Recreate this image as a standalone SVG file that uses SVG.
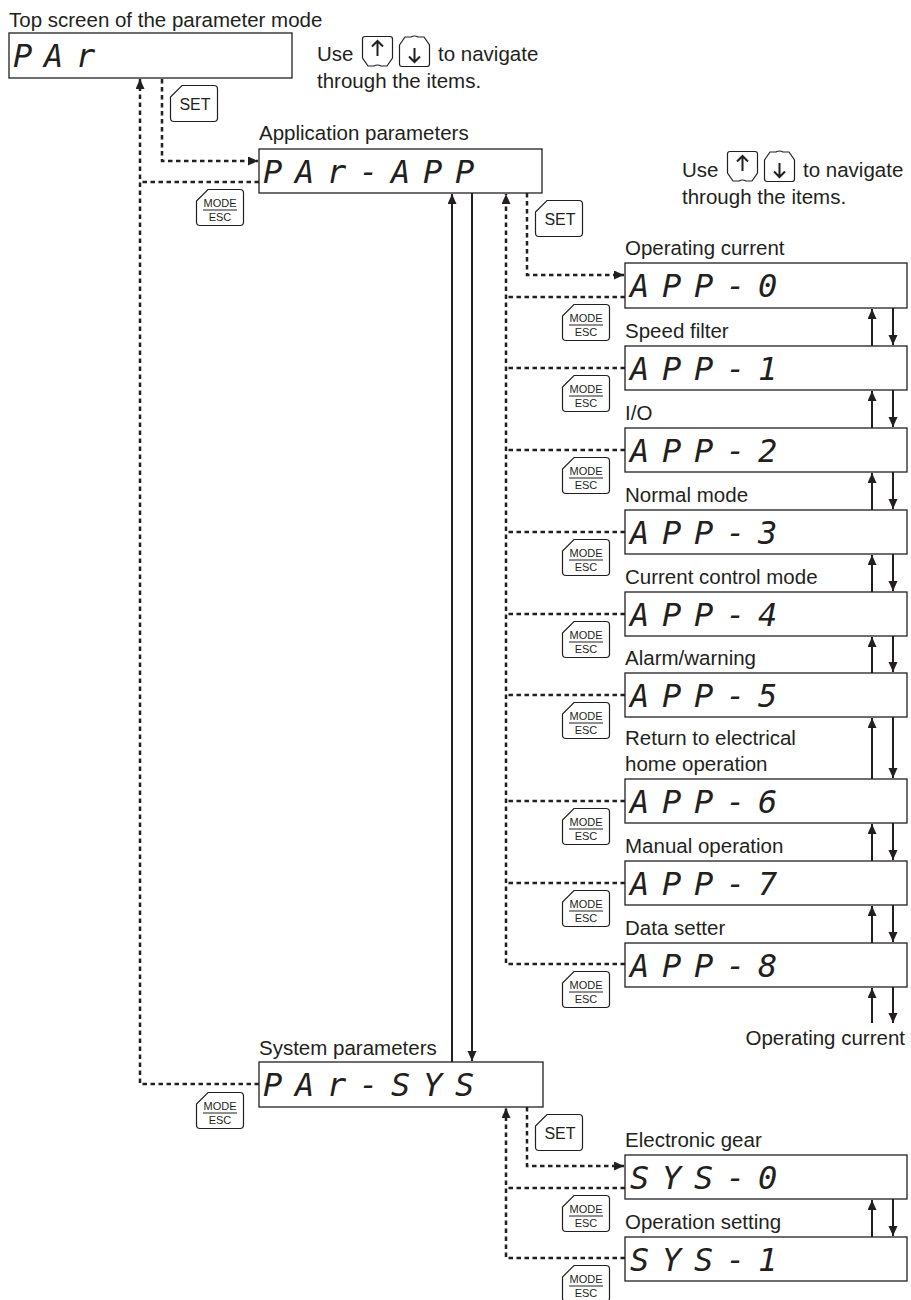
<svg xmlns="http://www.w3.org/2000/svg" xmlns:xlink="http://www.w3.org/1999/xlink" width="911" height="1300" viewBox="0 0 911 1300">
<style>
  .lbl { font-family: "Liberation Sans", Arial, sans-serif; font-size: 20.5px; fill: #231f20; }
  .box { fill: #ffffff; stroke: #231f20; stroke-width: 1.3; }
  .seg { font-family: "DejaVu Sans Mono", "Liberation Mono", monospace; font-style: oblique; font-size: 32px; fill: #231f20; }
  .dot { fill: none; stroke: #231f20; stroke-width: 2.5; stroke-dasharray: 4.5 3.5; }
  .sol { fill: none; stroke: #231f20; stroke-width: 2; }
  .key { fill: #ffffff; stroke: #231f20; stroke-width: 1.2; }
  .ktxt { font-family: "Liberation Sans", Arial, sans-serif; fill: #231f20; text-anchor: middle; }
  .karr { fill: none; stroke: #231f20; stroke-width: 2; }
</style>
<defs>
  <marker id="ah" markerUnits="userSpaceOnUse" markerWidth="11" markerHeight="10" refX="10" refY="4.5" orient="auto">
    <path d="M0,0 L10,4.5 L0,9 Z" fill="#231f20"/>
  </marker>
  <g id="modeKey">
    <path class="key" d="M12,0.5 H44 Q47.5,0.5 47.5,4 V33 Q47.5,36.5 44,36.5 H4 Q0.5,36.5 0.5,33 V12 Z"/>
    <text class="ktxt" x="24" y="18" font-size="11">MODE</text>
    <line x1="7" y1="21" x2="41" y2="21" stroke="#231f20" stroke-width="1"/>
    <text class="ktxt" x="24" y="32" font-size="11">ESC</text>
  </g>
  <g id="setKey">
    <path class="key" d="M12,0.5 H44 Q47.5,0.5 47.5,4 V33 Q47.5,36.5 44,36.5 H4 Q0.5,36.5 0.5,33 V12 Z"/>
    <text class="ktxt" x="25" y="25" font-size="16">SET</text>
  </g>
  <g id="upKey">
    <path class="key" d="M3,0.5 H28 Q30.5,0.5 30.5,3 V22 L25,30 H19 Q15.5,28 12,30 H6 L0.5,22 V3 Q0.5,0.5 3,0.5 Z"/>
    <path class="karr" d="M15.5,20 V5 M10,10.5 L15.5,5 L21,10.5"/>
  </g>
  <g id="downKey">
    <path class="key" d="M0.5,9 L6,1 H12 Q15.5,-1 19,1 H25 L30.5,9 V28 Q30.5,30.5 28,30.5 H3 Q0.5,30.5 0.5,28 Z"/>
    <path class="karr" d="M15.5,12 V26 M10,20.5 L15.5,26 L21,20.5"/>
  </g>
</defs>

<!-- free texts -->
<g id="notes">
  <text class="lbl" x="9" y="27">Top screen of the parameter mode</text>
  <text class="lbl" x="317" y="61">Use</text>
  <text class="lbl" x="438" y="61">to navigate</text>
  <text class="lbl" x="317" y="88">through the items.</text>
  <text class="lbl" x="682" y="177">Use</text>
  <text class="lbl" x="803" y="177">to navigate</text>
  <text class="lbl" x="682" y="204">through the items.</text>
  <text class="lbl" x="905" y="1045" text-anchor="end">Operating current</text>
</g>
<g id="navKeys">
  <use xlink:href="#upKey" x="362" y="36"/>
  <use xlink:href="#downKey" x="399" y="36"/>
  <use xlink:href="#upKey" x="727" y="151"/>
  <use xlink:href="#downKey" x="764" y="151"/>
</g>

<!-- connectors -->
<g id="connectors">
  <path class="dot" d="M259,1084 H140 V79" marker-end="url(#ah)"/>
  <path class="dot" d="M259,182 H140"/>
  <path class="dot" d="M162,79 V161 H258" marker-end="url(#ah)"/>
  <path class="sol" d="M452,1062 V194" marker-end="url(#ah)"/>
  <path class="sol" d="M472,193 V1061" marker-end="url(#ah)"/>
  <path class="dot" d="M625,964 H506 V194" marker-end="url(#ah)"/>
  <path class="dot" d="M625,297 H506"/>
  <path class="dot" d="M625,368 H506"/>
  <path class="dot" d="M625,450 H506"/>
  <path class="dot" d="M625,532 H506"/>
  <path class="dot" d="M625,614 H506"/>
  <path class="dot" d="M625,695 H506"/>
  <path class="dot" d="M625,801 H506"/>
  <path class="dot" d="M625,883 H506"/>
  <path class="dot" d="M527,193 V275 H624" marker-end="url(#ah)"/>
  <path class="sol" d="M872,346 V309" marker-end="url(#ah)"/>
  <path class="sol" d="M893,308 V345" marker-end="url(#ah)"/>
  <path class="sol" d="M872,428 V391" marker-end="url(#ah)"/>
  <path class="sol" d="M893,390 V427" marker-end="url(#ah)"/>
  <path class="sol" d="M872,510 V473" marker-end="url(#ah)"/>
  <path class="sol" d="M893,472 V509" marker-end="url(#ah)"/>
  <path class="sol" d="M872,592 V555" marker-end="url(#ah)"/>
  <path class="sol" d="M893,554 V591" marker-end="url(#ah)"/>
  <path class="sol" d="M872,673 V637" marker-end="url(#ah)"/>
  <path class="sol" d="M893,636 V672" marker-end="url(#ah)"/>
  <path class="sol" d="M872,779 V718" marker-end="url(#ah)"/>
  <path class="sol" d="M893,717 V778" marker-end="url(#ah)"/>
  <path class="sol" d="M872,861 V824" marker-end="url(#ah)"/>
  <path class="sol" d="M893,823 V860" marker-end="url(#ah)"/>
  <path class="sol" d="M872,943 V906" marker-end="url(#ah)"/>
  <path class="sol" d="M893,905 V942" marker-end="url(#ah)"/>
  <path class="sol" d="M872,1023 V988" marker-end="url(#ah)"/>
  <path class="sol" d="M893,987 V1023" marker-end="url(#ah)"/>
  <path class="dot" d="M625,1258 H506 V1108" marker-end="url(#ah)"/>
  <path class="dot" d="M625,1188 H506"/>
  <path class="dot" d="M527,1107 V1166 H624" marker-end="url(#ah)"/>
  <path class="sol" d="M872,1237 V1200" marker-end="url(#ah)"/>
  <path class="sol" d="M893,1199 V1236" marker-end="url(#ah)"/>
</g>

<!-- operation keys -->
<g id="opKeys">
  <use xlink:href="#setKey" x="170" y="85"/>
  <use xlink:href="#modeKey" x="196" y="189"/>
  <use xlink:href="#setKey" x="535" y="200"/>
  <use xlink:href="#modeKey" x="196" y="1092"/>
  <use xlink:href="#setKey" x="535" y="1114"/>
  <use xlink:href="#modeKey" x="562" y="304"/>
  <use xlink:href="#modeKey" x="562" y="375"/>
  <use xlink:href="#modeKey" x="562" y="457"/>
  <use xlink:href="#modeKey" x="562" y="539"/>
  <use xlink:href="#modeKey" x="562" y="621"/>
  <use xlink:href="#modeKey" x="562" y="702"/>
  <use xlink:href="#modeKey" x="562" y="808"/>
  <use xlink:href="#modeKey" x="562" y="890"/>
  <use xlink:href="#modeKey" x="562" y="971"/>
  <use xlink:href="#modeKey" x="562" y="1195"/>
  <use xlink:href="#modeKey" x="562" y="1265"/>
</g>

<!-- nodes -->
<g id="n-par">
  <rect class="box" x="9" y="33" width="283" height="45"/>
  <text class="seg" x="13 44 76" y="67">PAr</text>
</g>
<g id="n-par-app">
  <text class="lbl" x="259" y="140">Application parameters</text>
  <rect class="box" x="259" y="149" width="283" height="44"/>
  <text class="seg" x="263 295 327 359 391 423 455" y="183">PAr-APP</text>
</g>
<g id="n-app0">
  <text class="lbl" x="625" y="255">Operating current</text>
  <rect class="box" x="625" y="263" width="282" height="45"/>
  <text class="seg" x="630 662 694 726 758" y="297">APP-0</text>
</g>
<g id="n-app1">
  <text class="lbl" x="625" y="338">Speed filter</text>
  <rect class="box" x="625" y="346" width="282" height="44"/>
  <text class="seg" x="630 662 694 726 758" y="380">APP-1</text>
</g>
<g id="n-app2">
  <text class="lbl" x="625" y="420">I/O</text>
  <rect class="box" x="625" y="428" width="282" height="44"/>
  <text class="seg" x="630 662 694 726 758" y="462">APP-2</text>
</g>
<g id="n-app3">
  <text class="lbl" x="625" y="502">Normal mode</text>
  <rect class="box" x="625" y="510" width="282" height="44"/>
  <text class="seg" x="630 662 694 726 758" y="544">APP-3</text>
</g>
<g id="n-app4">
  <text class="lbl" x="625" y="584">Current control mode</text>
  <rect class="box" x="625" y="592" width="282" height="44"/>
  <text class="seg" x="630 662 694 726 758" y="626">APP-4</text>
</g>
<g id="n-app5">
  <text class="lbl" x="625" y="665">Alarm/warning</text>
  <rect class="box" x="625" y="673" width="282" height="44"/>
  <text class="seg" x="630 662 694 726 758" y="707">APP-5</text>
</g>
<g id="n-app6">
  <text class="lbl" x="625" y="745">Return to electrical</text>
  <text class="lbl" x="625" y="771">home operation</text>
  <rect class="box" x="625" y="779" width="282" height="44"/>
  <text class="seg" x="630 662 694 726 758" y="813">APP-6</text>
</g>
<g id="n-app7">
  <text class="lbl" x="625" y="853">Manual operation</text>
  <rect class="box" x="625" y="861" width="282" height="44"/>
  <text class="seg" x="630 662 694 726 758" y="895">APP-7</text>
</g>
<g id="n-app8">
  <text class="lbl" x="625" y="935">Data setter</text>
  <rect class="box" x="625" y="943" width="282" height="44"/>
  <text class="seg" x="630 662 694 726 758" y="977">APP-8</text>
</g>
<g id="n-par-sys">
  <text class="lbl" x="259" y="1055">System parameters</text>
  <rect class="box" x="259" y="1062" width="284" height="45"/>
  <text class="seg" x="263 295 327 359 391 423 455" y="1096">PAr-SYS</text>
</g>
<g id="n-sys0">
  <text class="lbl" x="625" y="1147">Electronic gear</text>
  <rect class="box" x="625" y="1155" width="282" height="44"/>
  <text class="seg" x="630 662 694 726 758" y="1189">SYS-0</text>
</g>
<g id="n-sys1">
  <text class="lbl" x="625" y="1229">Operation setting</text>
  <rect class="box" x="625" y="1237" width="282" height="44"/>
  <text class="seg" x="630 662 694 726 758" y="1271">SYS-1</text>
</g>
</svg>
